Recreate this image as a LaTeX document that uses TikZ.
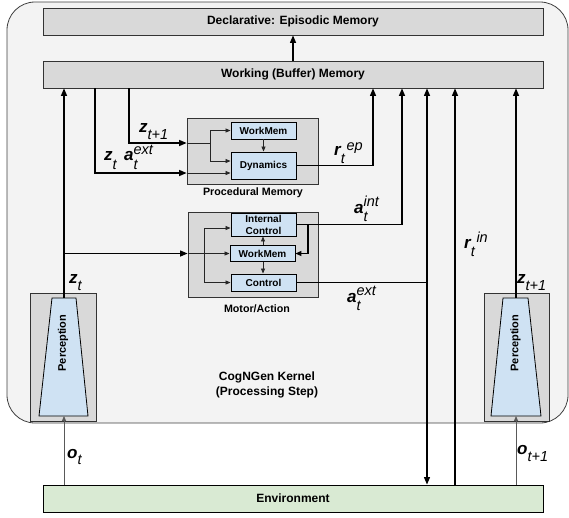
\documentclass[tikz,border=0pt]{standalone}
\usepackage{fontspec}
\setmainfont{Liberation Sans}
\usetikzlibrary{arrows.meta,calc}
\definecolor{kernbg}{HTML}{F3F3F3}
\definecolor{boxgray}{HTML}{D9D9D9}
\definecolor{boxblue}{HTML}{CFE2F3}
\definecolor{boxgreen}{HTML}{D9EAD3}

% bold italic symbol, script at a given raise, stacked sup/sub scripts
\newcommand\sv[1]{{\fontsize{17}{17}\selectfont\bfseries\itshape #1}}
\newcommand\sx[2]{\raisebox{#1}{\fontsize{14.5}{14.5}\selectfont\itshape #2}}
\newcommand\stk[4]{\ooalign{\sx{#1}{#2}\cr\sx{#3}{#4}\cr}}

\begin{document}
\begin{tikzpicture}[x=1pt,y=-1pt,
  gbox/.style={draw=black!80, fill=boxgray, line width=0.8pt, inner sep=0pt},
  bbox/.style={draw=black, fill=boxblue, line width=0.9pt, inner sep=0pt,
    minimum width=65pt, align=center, font=\fontsize{10}{12}\selectfont\bfseries},
  hdr/.style={font=\fontsize{12}{14}\selectfont\bfseries},
  sect/.style={font=\fontsize{10.7}{12}\selectfont\bfseries, inner sep=0pt},
  arr/.style={line width=1.2pt, -{Triangle[length=7.5pt,width=6pt]}},
  thk/.style={line width=1.6pt},
  wire/.style={line width=1.2pt},
  sarr/.style={line width=0.8pt, draw=black!85, -{Triangle[length=5pt,width=4pt]}},
  swire/.style={line width=0.8pt, draw=black!85},
  oarr/.style={line width=0.8pt, draw=black!65, -{Triangle[length=5pt,width=4pt]}},
  trap/.style={draw=black, fill=boxblue, line width=0.8pt},
  lab/.style={anchor=base west, inner sep=0pt}
]
\useasboundingbox (0,0) rectangle (569,517);

% kernel background
\draw[draw=black!75, fill=kernbg, line width=0.8pt, rounded corners=28pt] (7,2) rectangle (568,423);
\node[hdr, align=center, font=\fontsize{12}{14.5}\selectfont\bfseries] (kern) at (267,385) {CogNGen Kernel\\(Processing Step)};

% memories
\node[gbox, hdr, minimum width=500pt, minimum height=27pt] (decl) at (293,21.5) {Declarative: Episodic Memory};
\node[gbox, hdr, minimum width=500pt, minimum height=27pt] (work) at (293,74.5) {Working (Buffer) Memory};

% procedural memory
\node[gbox, minimum width=131pt, minimum height=66pt] (proc) at (252.5,151) {};
\node[bbox, minimum height=17pt] (pWM) at (263.5,130.5) {WorkMem};
\node[bbox, minimum height=27pt] (pDyn) at (263.5,165.5) {Dynamics};
\node[sect] (procl) at (253,193) {Procedural Memory};

% motor / action
\node[gbox, minimum width=130pt, minimum height=85pt] (motor) at (253,254.5) {};
\node[bbox, minimum height=23pt] (mIC) at (263.5,224.5) {Internal\\Control};
\node[bbox, minimum height=16pt] (mWM) at (262.5,253.5) {WorkMem};
\node[bbox, minimum height=17pt] (mCtl) at (263.5,282.5) {Control};
\node[sect] (motl) at (257,309) {Motor/Action};

% perception modules
\node[gbox, minimum width=66pt, minimum height=128pt] (pL) at (63,357) {};
\draw[trap] (52,298) -- (76,298) -- (88,416) -- (39,416) -- cycle;
\node[rotate=90, font=\fontsize{11}{12}\selectfont\bfseries, inner sep=0pt] (pLt) at (63,343) {Perception};
\coordinate (pLtop) at (64,298);
\coordinate (pLbot) at (64,416);

\node[gbox, minimum width=65pt, minimum height=128pt] (pR) at (516.5,357) {};
\draw[trap] (503,298) -- (528,298) -- (541,416) -- (491,416) -- cycle;
\node[rotate=90, font=\fontsize{11}{12}\selectfont\bfseries, inner sep=0pt] (pRt) at (515.5,343) {Perception};
\coordinate (pRtop) at (516,298);
\coordinate (pRbot) at (516,416);

% environment
\node[draw=black, fill=boxgreen, line width=0.9pt, minimum width=500pt, minimum height=27pt, hdr] (env) at (293,498.5) {Environment};

% working -> declarative
\draw[arr] (work.north) -- (decl.south);

% perception (t) -> working memory and motor
\draw[arr] (pLtop) -- (pLtop |- work.south);
\coordinate (zt) at (64,253.5);
\draw[arr] (zt) -- (zt -| motor.west);
\draw[sarr] (zt -| motor.west) -- (mWM.west);
\coordinate (mbr) at (204,253.5);
\draw[sarr] (mbr) |- ([yshift=-3.5pt]mIC.west);
\draw[sarr] (mbr) |- (mCtl.west);
\draw[sarr] (mWM.north -| 263,0) -- (263,0 |- mIC.south);
\draw[sarr] (mWM.south -| 263,0) -- (263,0 |- mCtl.north);

% working memory -> procedural memory
\coordinate (xa) at (95,173);
\draw[arr] (xa |- work.south) |- (proc.west |- xa);
\draw[sarr] (proc.west |- xa) -- (pDyn.west |- xa);
\coordinate (xb) at (129,143);
\coordinate (pbr) at (210,143);
\draw[arr] (xb |- work.south) |- (proc.west |- xb);
\draw[swire] (proc.west |- xb) -- (pbr);
\draw[sarr] (pbr) |- (pWM.west);
\draw[sarr] (pbr) |- ([yshift=4.5pt]pDyn.west);
\draw[sarr] (pWM.south) -- (pDyn.north);

% procedural -> working (r ep)
\coordinate (xrep) at (373,0);
\draw[arr] (pDyn.east) -| (xrep |- work.south);

% internal control -> working (a int), feedback into motor workmem
\coordinate (xaint) at (402,0);
\draw[arr, line width=1.4pt] (mIC.east) -| (xaint |- work.south);
\coordinate (fb) at (308,224.5);
\draw[line width=1.1pt, -{Triangle[length=6pt,width=5pt]}] (fb) |- (mWM.east);

% control -> environment and working (a ext)
\coordinate (aext) at (427,282.5);
\draw[thk] (mCtl.east) -- (aext);
\draw[arr] (aext) -- (aext |- work.south);
\draw[arr] (aext) -- (aext |- env.north);

% environment -> working (r in)
\coordinate (xrin) at (455,0);
\draw[arr] (xrin |- env.north) -- (xrin |- work.south);

% perception (t+1) -> working
\draw[arr] (pRtop) -- (pRtop |- work.south);

% observations
\draw[oarr] (pLbot |- env.north) -- (pLbot);
\draw[oarr] (pRbot |- env.north) -- (pRbot);

% signal labels
\node[lab] (l1) at (139,132) {\sv{z}\sx{-7pt}{t+1}};
\node[lab] (l2) at (104,160) {\sv{z}\sx{-9pt}{t}};
\node[lab] (l3) at (124,160) {\sv{a}\stk{6pt}{ext}{-9pt}{t}};
\node[lab] (l4) at (334,155) {\sv{r}\sx{-8pt}{t}\,\sx{5pt}{ep}};
\node[lab] (l5) at (354,213) {\sv{a}\stk{7pt}{int}{-8pt}{t}};
\node[lab] (l6) at (347,302) {\sv{a}\stk{7pt}{ext}{-8pt}{t}};
\node[lab] (l7) at (464,248) {\sv{r}\sx{-8pt}{t}\,\sx{6pt}{in}};
\node[lab] (l8) at (69,283) {\sv{z}\sx{-7pt}{t}};
\node[lab] (l9) at (517,283) {\sv{z}\sx{-7pt}{t+1}};
\node[lab] (l10) at (67,458) {\sv{o}\sx{-6pt}{t}};
\node[lab] (l11) at (517,454) {\sv{o}\sx{-7pt}{t+1}};
\end{tikzpicture}
\end{document}
